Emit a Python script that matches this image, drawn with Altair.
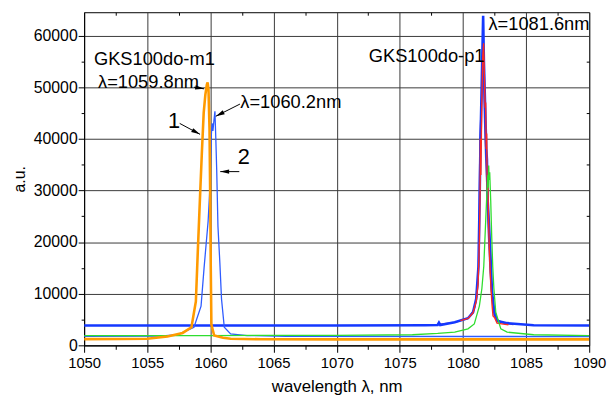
import math
import altair as alt
import pandas as pd

X_MIN, X_MAX = 1050, 1090
Y_MIN, Y_MAX = 0, 64500
W, H = 511, 337
FONT = "Liberation Sans"

# ---- series (wavelength nm, intensity a.u.) ----
orange_x = [1050, 1053, 1055, 1056.6, 1057.8, 1058.5, 1058.85, 1059.0, 1059.2, 1059.32, 1059.47,
            1059.6, 1059.72, 1059.78, 1059.85, 1059.93, 1059.98, 1060.03, 1060.08, 1060.3, 1061.0,
            1061.6, 1064, 1070, 1080, 1090]
orange_y = [1200, 1230, 1280, 1700, 2400, 3500, 8500, 18000, 30000, 37000, 45000,
            48500, 50500, 50900, 49500, 42000, 30000, 15000, 4000, 1900, 1450,
            1280, 1180, 1150, 1150, 1150]

blue1_x = [1050, 1056, 1057.4, 1058.7, 1059.26, 1059.5, 1059.82, 1059.95, 1060.02, 1060.08, 1060.14,
           1060.2, 1060.28, 1060.36, 1060.43, 1060.5, 1060.6, 1060.75, 1060.88, 1061.1, 1061.6,
           1062.9, 1066, 1090]
blue1_y = [1720, 1800, 2050, 3500, 7600, 15000, 24000, 30000, 36000, 41000, 43000,
           41500, 43500, 45300, 40000, 34000, 23000, 16000, 9000, 3500, 2200,
           1900, 1750, 1700]

green_x = [1050, 1060, 1070, 1076, 1078, 1079.35, 1080.4, 1080.9, 1081.3, 1081.5, 1081.65, 1081.8,
           1081.87, 1081.93, 1081.97, 1082.0, 1082.04, 1082.08, 1082.12, 1082.2, 1082.28, 1082.36,
           1082.45, 1082.6, 1083.0, 1083.5, 1085.6, 1090]
green_y = [1900, 1900, 1950, 2050, 2300, 2550, 3200, 4150, 7600, 11000, 15300, 24000,
           28000, 31000, 33000, 30500, 34800, 32000, 33500, 28000, 21000, 15300,
           11000, 6400, 3200, 2550, 2050, 1900]

blue2_x = [1050, 1060, 1070, 1077, 1078.0, 1078.1, 1078.2, 1079.35, 1080.4, 1080.8, 1081.05, 1081.23,
           1081.32, 1081.39, 1081.5, 1081.6, 1081.66, 1081.75, 1081.85, 1081.9, 1081.96, 1082.05,
           1082.17, 1082.3, 1082.5, 1082.75, 1083.5, 1085.6, 1090]
blue2_y = [3840, 3840, 3850, 3900, 3950, 4400, 3950, 4480, 5250, 6400, 9000, 15300,
           28000, 39600, 52000, 63800, 55000, 47000, 38000, 36000, 28000, 24000,
           18000, 10500, 6000, 4700, 4300, 3900, 3840]

red_x = [1079.8, 1080.4, 1080.8, 1081.05, 1081.2, 1081.3, 1081.36, 1081.38,
         1081.42, 1081.5, 1081.57, 1081.64, 1081.7, 1081.76, 1081.8, 1081.84, 1081.88, 1081.92,
         1081.97, 1082.02, 1082.1, 1082.2, 1082.3, 1082.38, 1082.5, 1082.7, 1083.2, 1083.6]
red_y = [4800, 5200, 6300, 8500, 12000, 20000, 30000, 40000,
         33000, 48000, 56000, 58500, 52000, 46000, 47000, 38000, 41000, 30000,
         33000, 25000, 18000, 12000, 8000, 5700, 5400, 4300, 4100, 4000]

purple_x = [1078, 1079.35, 1080.4, 1080.9, 1081.1, 1081.2, 1081.26, 1081.3, 1081.34, 1081.42,
            1081.55, 1081.62, 1081.7, 1081.8, 1081.9, 1082.0, 1082.15, 1082.3, 1082.7, 1083.2, 1084]
purple_y = [4050, 4450, 5200, 7000, 9500, 12000, 20000, 30000, 40000, 45000,
            50000, 52000, 44000, 36000, 30000, 22000, 14000, 9000, 5000, 4300, 4000]

# name, x, y, colour, width  (drawing order)
series = [
    ("purple", purple_x, purple_y, "#7A3CA8", 1.3),
    ("blue2", blue2_x, blue2_y, "#1438FF", 2.6),
    ("red", red_x, red_y, "#FF2A1F", 1.4),
    ("blue1", blue1_x, blue1_y, "#2F5CFF", 1.3),
    ("green", green_x, green_y, "#2FDD2F", 1.3),
    ("orange", orange_x, orange_y, "#FF9A00", 2.6),
]

# ---- annotations ----
text_labels = ["GKS100do-m1", "λ=1059.8nm", "λ=1060.2nm", "GKS100do-p1", "λ=1081.6nm"]
text_x = [1050.78, 1051.10, 1062.37, 1072.54, 1082.02]
text_y = [55466, 51062, 47042, 55945, 62263]

num_labels = ["1", "2"]
num_x = [1057.12, 1062.64]
num_y = [43404, 36512]

arrow_x1 = [1058.69, 1062.34, 1057.57, 1062.29]
arrow_y1 = [49985, 46716, 42973, 33640]
arrow_x2 = [1059.50, 1060.43, 1059.18, 1060.78]
arrow_y2 = [49665, 44361, 40858, 33640]

x_ticks = [1050 + 2.5 * i for i in range(17)]
y_ticks = [5000 * i for i in range(13)]
x_minor = [v for v in x_ticks if v % 5 != 0]
y_minor = [v for v in y_ticks if v % 10000 != 0]

xscale = alt.Scale(domain=[X_MIN, X_MAX], nice=False, zero=False)
yscale = alt.Scale(domain=[Y_MIN, Y_MAX], nice=False, zero=False)

x_axis = alt.Axis(
    values=x_ticks, format="d",
    labelExpr="datum.value % 5 === 0 ? datum.label : ''",
    tickSize={"condition": {"test": "datum.value % 5 === 0", "value": 7}, "value": 4},
    gridOpacity={"condition": {"test": "datum.value % 5 === 0", "value": 1}, "value": 0},
    grid=True, gridColor="#3a3a3a", gridWidth=1,
    domainColor="black", tickColor="black",
    labelFont=FONT, labelFontSize=15, labelColor="black", labelPadding=3,
    labelOverlap=False, labelFlush=False, labelBound=False,
    title="wavelength λ, nm", titleFont=FONT, titleFontSize=17, titleFontWeight="normal",
    titleColor="black", titlePadding=9,
)
y_axis = alt.Axis(
    values=y_ticks, format="d",
    labelExpr="datum.value % 10000 === 0 ? datum.label : ''",
    tickSize={"condition": {"test": "datum.value % 10000 === 0", "value": 6}, "value": 3},
    gridOpacity={"condition": {"test": "datum.value % 10000 === 0", "value": 1}, "value": 0},
    grid=True, gridColor="#3a3a3a", gridWidth=1,
    domainColor="black", tickColor="black",
    labelFont=FONT, labelFontSize=16, labelColor="black", labelPadding=1,
    labelOverlap=False, labelFlush=False, labelBound=False,
    title="a.u.", titleFont=FONT, titleFontSize=16, titleFontWeight="normal",
    titleColor="black", titlePadding=6,
)

layers = []
for i, (name, xs, ys, col, sw) in enumerate(series):
    df = pd.DataFrame({"wl": xs, "v": ys, "o": list(range(len(xs)))})
    layers.append(
        alt.Chart(df).mark_line(color=col, strokeWidth=sw, clip=True).encode(
            x=alt.X("wl:Q", scale=xscale, axis=x_axis if i == 0 else None),
            y=alt.Y("v:Q", scale=yscale, axis=y_axis if i == 0 else None),
            order="o:Q",
        )
    )

tdf = pd.DataFrame({"x": text_x, "y": text_y, "t": text_labels})
layers.append(
    alt.Chart(tdf).mark_text(align="left", baseline="middle", font=FONT, fontSize=18.5, color="black").encode(
        x=alt.X("x:Q", scale=xscale, axis=None), y=alt.Y("y:Q", scale=yscale, axis=None), text="t:N")
)
ndf = pd.DataFrame({"x": num_x, "y": num_y, "t": num_labels})
layers.append(
    alt.Chart(ndf).mark_text(align="center", baseline="middle", font=FONT, fontSize=22, color="black").encode(
        x=alt.X("x:Q", scale=xscale, axis=None), y=alt.Y("y:Q", scale=yscale, axis=None), text="t:N")
)

px_x = W / (X_MAX - X_MIN)
px_y = H / (Y_MAX - Y_MIN)
angles = []
for a, b, c, d in zip(arrow_x1, arrow_y1, arrow_x2, arrow_y2):
    dx = (c - a) * px_x
    dy = -(d - b) * px_y
    angles.append(math.degrees(math.atan2(dx, -dy)) % 360)
adf = pd.DataFrame({"x1": arrow_x1, "y1": arrow_y1, "x2": arrow_x2, "y2": arrow_y2, "ang": angles})
layers.append(
    alt.Chart(adf).mark_rule(color="black", strokeWidth=1).encode(
        x=alt.X("x1:Q", scale=xscale, axis=None), y=alt.Y("y1:Q", scale=yscale, axis=None),
        x2="x2:Q", y2="y2:Q")
)
layers.append(
    alt.Chart(adf).mark_point(shape="M0,0L-0.6,2.4L0.6,2.4Z", filled=True, size=56, color="black", opacity=1).encode(
        x=alt.X("x2:Q", scale=xscale, axis=None), y=alt.Y("y2:Q", scale=yscale, axis=None),
        angle=alt.Angle("ang:Q", scale=None))
)

# inward minor ticks on top and right frame
layers.append(
    alt.Chart(tdf).mark_point(opacity=0).encode(
        x=alt.X("x:Q", scale=xscale, axis=alt.Axis(orient="bottom", offset=-H, values=x_minor, labels=False,
                                                    domain=False, grid=False, tickSize=3, tickColor="black", title=None)),
        y=alt.Y("y:Q", scale=yscale, axis=alt.Axis(orient="left", offset=-W, values=y_minor, labels=False,
                                                    domain=False, grid=False, tickSize=3, tickColor="black", title=None)),
    )
)

chart = alt.layer(*layers).resolve_axis(x="independent", y="independent").properties(
    width=W, height=H,
    padding={"left": 77, "top": 2, "right": 19, "bottom": 52},
    autosize=alt.AutoSizeParams(type="none"),
    background="white",
).configure_view(stroke="black", strokeWidth=1)

chart.save("out.html", embed_options={"renderer": "svg", "actions": False})
